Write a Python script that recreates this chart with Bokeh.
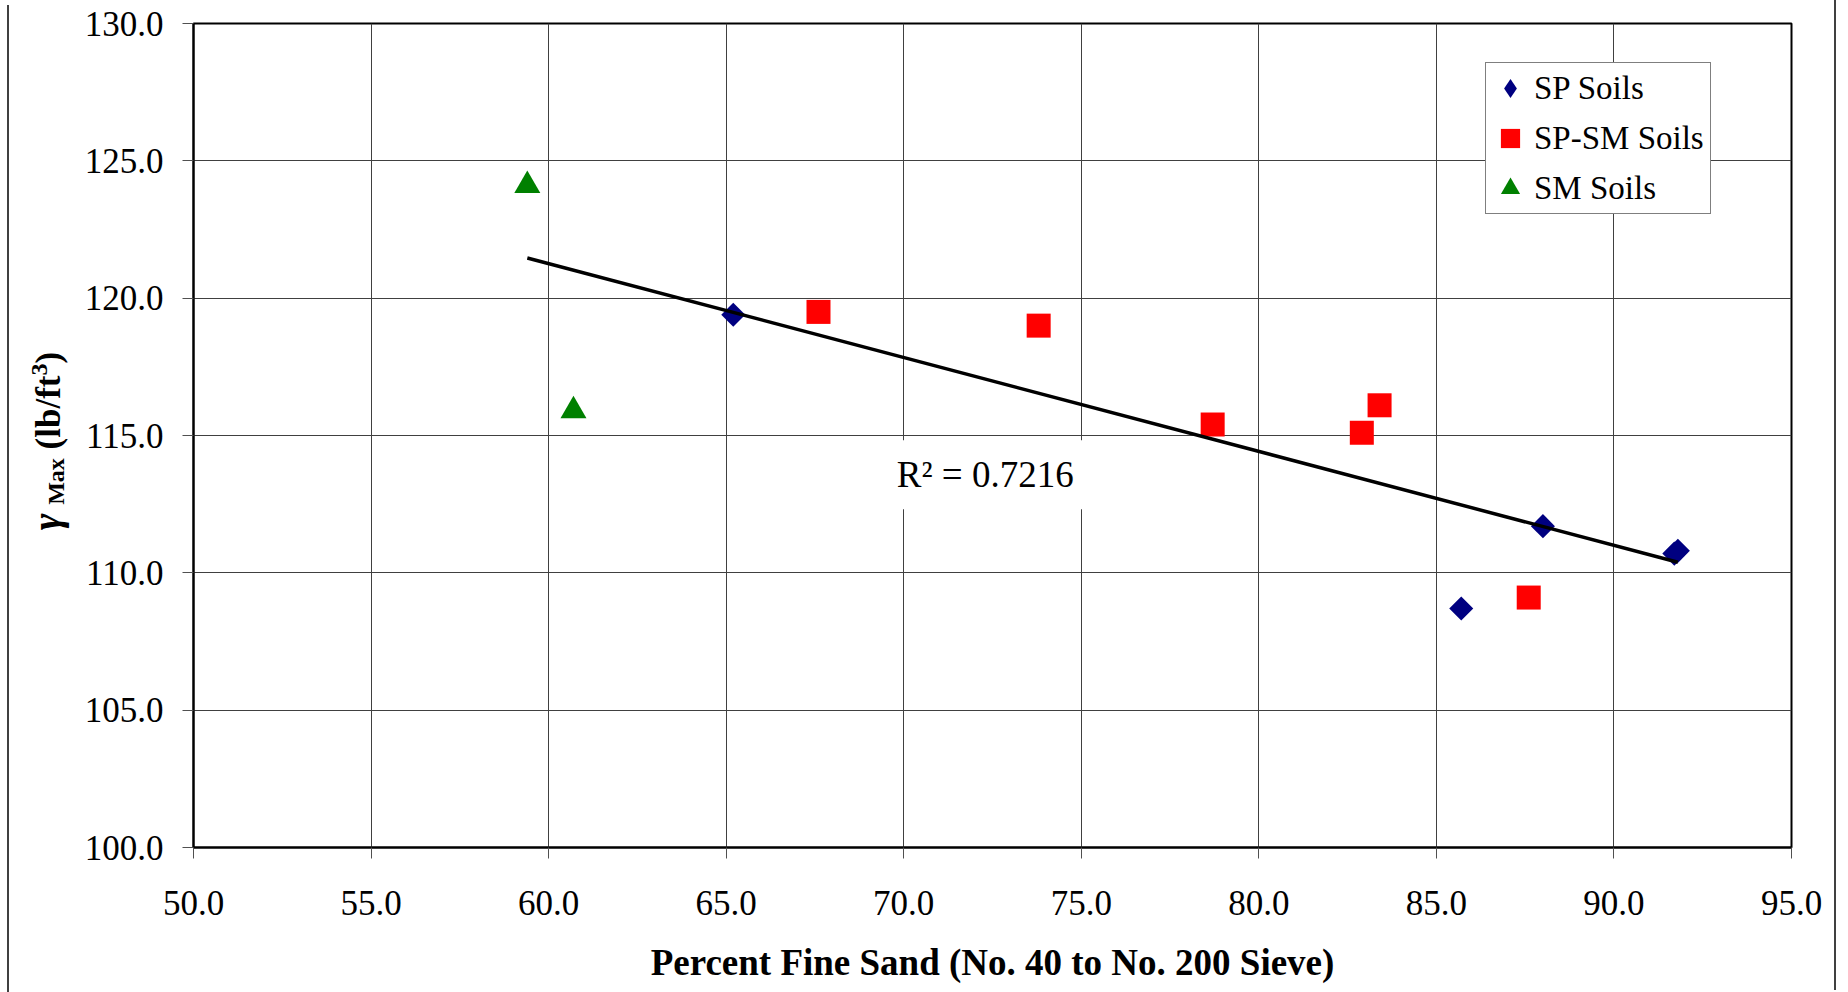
import numpy as np
from bokeh.plotting import figure
from bokeh.layouts import row
from bokeh.models import Range1d, FixedTicker, PrintfTickFormatter, Label, Legend, LegendItem, Div
from bokeh.embed import file_html
from bokeh.resources import INLINE

# ---- data ----
sp_x = [65.2, 88.0, 85.7, 91.7, 91.8]
sp_y = [119.4, 111.7, 108.7, 110.7, 110.8]
spsm_x = [67.6, 73.8, 78.7, 82.9, 83.4, 87.6]
spsm_y = [119.5, 119.0, 115.4, 115.1, 116.1, 109.1]
sm_x = [59.4, 60.7]
sm_y = [124.1, 115.9]
x_ticks = [50, 55, 60, 65, 70, 75, 80, 85, 90, 95]
y_ticks = [100, 105, 110, 115, 120, 125, 130]
series_names = ["SP Soils", "SP-SM Soils", "SM Soils"]
r2_text = "R\u00b2 = 0.7216"
x_title = "Percent Fine Sand (No. 40 to No. 200 Sieve)"
y_title_html = ('<i style="font-size:40px">\u03b3</i> '
                '<span style="font-size:24px;position:relative;top:4px">Max</span> '
                '(lb/ft<span style="font-size:24px;position:relative;top:-13px">3</span>)')

FONT = "Liberation Serif"

# linear trend fitted to all points
all_x = np.array(sp_x + spsm_x + sm_x)
all_y = np.array(sp_y + spsm_y + sm_y)
slope, intercept = np.polyfit(all_x, all_y, 1)
tx = [all_x.min(), all_x.max()]
ty = [slope * v + intercept for v in tx]

p = figure(width=1761, height=990, x_range=Range1d(50, 95), y_range=Range1d(100, 130),
           output_backend="svg", toolbar_location=None,
           min_border_left=118, min_border_right=45, min_border_top=23, min_border_bottom=143)
p.styles = {"border-right": "2px solid #404040"}

p.outline_line_color = "black"
p.outline_line_width = 2
p.background_fill_color = "white"
p.border_fill_color = "white"

for ax in (p.xaxis[0], p.yaxis[0]):
    ax.major_label_text_font = FONT
    ax.major_label_text_font_size = "35px"
    ax.major_label_text_color = "black"
    ax.major_tick_out = 11
    ax.major_tick_in = 0
    ax.minor_tick_out = 0
    ax.minor_tick_in = 0
    ax.major_tick_line_color = "#505050"
    ax.axis_line_color = "black"
    ax.axis_line_width = 2
    ax.formatter = PrintfTickFormatter(format="%.1f")

p.xaxis[0].ticker = FixedTicker(ticks=x_ticks)
p.yaxis[0].ticker = FixedTicker(ticks=y_ticks)
p.xaxis[0].major_label_standoff = 32
p.yaxis[0].major_label_standoff = 19
p.xaxis[0].axis_label = x_title
p.xaxis[0].axis_label_text_font = FONT
p.xaxis[0].axis_label_text_font_size = "37px"
p.xaxis[0].axis_label_text_font_style = "bold"
p.xaxis[0].axis_label_text_color = "black"
p.xaxis[0].axis_label_standoff = 24

p.xgrid.ticker = FixedTicker(ticks=x_ticks)
p.ygrid.ticker = FixedTicker(ticks=y_ticks)
p.grid.grid_line_color = "#404040"
p.grid.grid_line_width = 1

r_sp = p.scatter(sp_x, sp_y, marker="square", size=17, angle=np.pi / 4,
                 fill_color="#000080", line_color=None)
r_spsm = p.scatter(spsm_x, spsm_y, marker="square", size=24,
                   fill_color="#FF0000", line_color=None)
r_sm = p.scatter(sm_x, sm_y, marker="triangle", size=26,
                 fill_color="#008000", line_color=None)
p.line(tx, ty, line_color="black", line_width=3.5)

# legend key proxy for the diamond symbol (not drawn in the plot area)
r_sp_key = p.scatter(x=[float("nan")], y=[float("nan")], marker="diamond",
                     fill_color="#000080", line_color=None)

# R^2 label with white box
p.add_layout(Label(x=69.41, y=113.57, text=r2_text, text_font=FONT, text_font_size="37px",
                   text_color="black", text_align="left", text_baseline="alphabetic",
                   background_fill_color="white", padding=14))

legend = Legend(items=[LegendItem(label=series_names[0], renderers=[r_sp_key]),
                       LegendItem(label=series_names[1], renderers=[r_spsm]),
                       LegendItem(label=series_names[2], renderers=[r_sm])],
                location=(1292, 633))
legend.label_text_font = FONT
legend.label_text_font_size = "33px"
legend.label_text_color = "black"
legend.glyph_width = 48
legend.glyph_height = 50
legend.label_standoff = 0
legend.spacing = 0
legend.padding = dict(left=0, right=6, top=0, bottom=0)
legend.margin = 0
legend.border_line_color = "black"
legend.border_line_width = 1.5
legend.background_fill_color = "white"
legend.background_fill_alpha = 1
p.add_layout(legend, "center")

# rotated y-axis title (with subscript / superscript) in a narrow column left of the plot
ytitle = Div(
    text=('<div style="position:relative;width:63px;height:990px;">'
          '<div style="position:absolute;left:40.1px;top:436px;'
          'transform:translate(-50%,-50%) rotate(-90deg);white-space:nowrap;'
          "font-family:'Liberation Serif';font-weight:bold;font-size:35px;"
          'line-height:35px;color:black;">' + y_title_html + '</div></div>'),
    width=63, height=990,
    styles={"margin-left": "7px", "border-left": "2px solid #404040"})

layout = row(ytitle, p)
open("out.html", "w").write(file_html(layout, INLINE))
